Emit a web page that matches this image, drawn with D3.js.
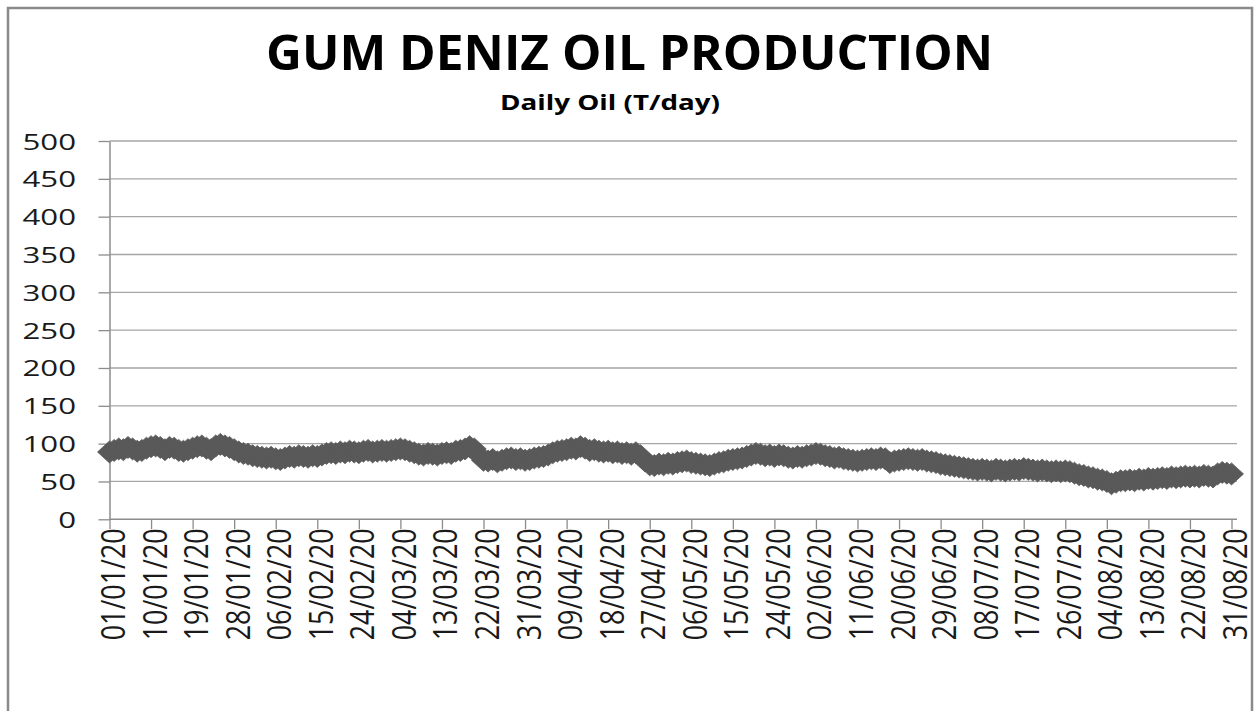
<!DOCTYPE html>
<html>
<head>
<meta charset="utf-8">
<script src="https://cdn.jsdelivr.net/npm/d3@7"></script>
<style>
  body { margin: 0; background: #fff; }
  svg { display: block; }
</style>
</head>
<body>
<div id="chart"></div>
<script>
// daily oil, T/day, 01/01/20 .. 31/08/20
var jan = [89, 91, 93, 92, 95, 93, 90, 91, 94, 96, 97, 95, 92, 95, 94, 91, 90, 92, 94, 96, 97, 94, 92, 97, 99, 97, 95, 92, 89, 87, 86];
var feb = [84, 83, 82, 81, 82, 80, 79, 81, 83, 82, 84, 83, 82, 84, 83, 85, 87, 88, 87, 89, 88, 90, 89, 88, 90, 91, 89, 90, 91];
var mar = [90, 91, 92, 93, 92, 90, 88, 86, 85, 87, 86, 85, 87, 88, 87, 90, 91, 93, 96, 93, 85, 78, 77, 79, 76, 78, 80, 81, 79, 80, 78];
var apr = [79, 81, 82, 83, 85, 88, 90, 91, 92, 94, 93, 96, 94, 91, 92, 90, 89, 90, 88, 89, 87, 88, 86, 88, 84, 77, 72, 71, 73, 72];
var may = [74, 73, 75, 76, 77, 75, 74, 73, 72, 71, 73, 75, 76, 78, 79, 80, 81, 83, 85, 87, 86, 84, 85, 83, 85, 84, 82, 81, 83, 82, 84];
var jun = [85, 87, 86, 84, 83, 81, 82, 80, 79, 78, 77, 78, 79, 80, 79, 81, 80, 75, 77, 78, 79, 80, 79, 78, 79, 77, 76, 75, 73, 72];
var jul = [71, 70, 69, 68, 67, 66, 65, 66, 65, 64, 66, 65, 64, 65, 66, 65, 67, 66, 65, 64, 65, 64, 63, 64, 63, 64, 63, 61, 59, 58, 56];
var aug = [55, 53, 52, 50, 47, 49, 51, 51, 52, 51, 53, 52, 54, 53, 54, 55, 54, 56, 55, 56, 57, 56, 57, 56, 58, 57, 56, 60, 62, 61, 60];

var tickLabels = ["01/01/20", "10/01/20", "19/01/20", "28/01/20", "06/02/20", "15/02/20", "24/02/20",
  "04/03/20", "13/03/20", "22/03/20", "31/03/20", "09/04/20", "18/04/20", "27/04/20", "06/05/20",
  "15/05/20", "24/05/20", "02/06/20", "11/06/20", "20/06/20", "29/06/20", "08/07/20", "17/07/20",
  "26/07/20", "04/08/20", "13/08/20", "22/08/20", "31/08/20"];
var yTicks = [0, 50, 100, 150, 200, 250, 300, 350, 400, 450, 500];

var values = [].concat(jan, feb, mar, apr, may, jun, jul, aug);
var fmt = d3.timeFormat("%d/%m/%y");
var days = d3.timeDay.range(new Date(2020, 0, 1), new Date(2020, 8, 1)).map(fmt);
var data = days.map((d, i) => ({day: d, value: values[i]}));

var chart = {width: 1255, height: 711};
chart.plot = {left: 109.5, right: 1231.5, top: 141, bottom: 519.3, gridEnd: 1237};
chart.color = "#595959";
chart.gridColor = "#a6a6a6";
chart.axisColor = "#8c8c8c";
chart.font = "'Open Sans', 'Noto Sans', sans-serif";

svg = d3.select("#chart")
  .append("svg")
  .attr("width", chart.width)
  .attr("height", chart.height)

svg.append("rect")
  .attr("width", chart.width)
  .attr("height", chart.height)
  .attr("fill", "#fff")

// outer chart frame
svg.append("rect")
  .attr("x", 8)
  .attr("y", 8)
  .attr("width", 1244)
  .attr("height", 720)
  .attr("fill", "none")
  .attr("stroke", "#8a8a8a")
  .attr("stroke-width", 2.5)

var x = d3.scalePoint()
  .domain(days)
  .range([chart.plot.left, chart.plot.right]);

var y = d3.scaleLinear()
  .domain([0, 500])
  .range([chart.plot.bottom, chart.plot.top]);

// gridlines
svg.append("g")
  .selectAll("line")
  .data(yTicks.slice(1))
  .enter()
  .append("line")
  .attr("x1", chart.plot.left)
  .attr("x2", chart.plot.gridEnd)
  .attr("y1", d => y(d))
  .attr("y2", d => y(d))
  .attr("stroke", chart.gridColor)
  .attr("stroke-width", 1.3)

// y axis
var yAxis = svg.append("g")
  .attr("transform", "translate(" + chart.plot.left + ",0)")
  .call(d3.axisLeft(y).tickValues(yTicks).tickSize(11).tickSizeOuter(0).tickPadding(0));
yAxis.select(".domain").attr("stroke", chart.axisColor).attr("stroke-width", 1.5);
yAxis.selectAll(".tick line").attr("stroke", chart.axisColor).attr("stroke-width", 1.3);
yAxis.selectAll(".tick text")
  .attr("x", 0).attr("dy", 0)
  .attr("transform", "translate(-33.5,8) scale(1.42,1)")
  .attr("text-anchor", "end")
  .attr("font-family", chart.font)
  .attr("font-size", 22)
  .attr("fill", "#1a1a1a")

// x axis
var xAxis = svg.append("g")
  .attr("transform", "translate(0," + chart.plot.bottom + ")")
  .call(d3.axisBottom(x).tickValues(tickLabels).tickSize(10).tickSizeOuter(0));
xAxis.select(".domain")
  .attr("d", "M" + chart.plot.left + ",0H" + chart.plot.gridEnd)
  .attr("stroke", chart.axisColor).attr("stroke-width", 1.5);
xAxis.selectAll(".tick line").attr("stroke", chart.axisColor).attr("stroke-width", 1.3);
xAxis.selectAll(".tick text")
  .attr("x", 0).attr("y", 0).attr("dy", "0.36em")
  .attr("transform", "translate(3,9) scale(1.45,1) rotate(-90)")
  .attr("text-anchor", "end")
  .attr("textLength", 112)
  .attr("lengthAdjust", "spacingAndGlyphs")
  .attr("font-family", chart.font)
  .attr("font-size", 23)
  .attr("fill", "#1a1a1a")

// series line + diamond markers
var line = d3.line()
  .x(d => x(d.day))
  .y(d => y(d.value));

svg.append("path")
  .datum(data)
  .attr("d", line)
  .attr("fill", "none")
  .attr("stroke", chart.color)
  .attr("stroke-width", 2.5)

function diamond(hw, hh){
  return "M0," + (-hh) + "L" + hw + ",0L0," + hh + "L" + (-hw) + ",0Z";
}

svg.append("g")
  .selectAll("path")
  .data(data)
  .enter()
  .append("path")
  .attr("transform", d => "translate(" + x(d.day) + "," + y(d.value) + ")")
  .attr("d", diamond(12, 11))
  .attr("fill", chart.color)
  .attr("stroke", chart.color)
  .attr("stroke-width", 0.8)

// titles
svg.append("text")
  .attr("x", 266)
  .attr("y", 70)
  .attr("textLength", 727)
  .attr("lengthAdjust", "spacingAndGlyphs")
  .attr("font-family", chart.font)
  .attr("font-weight", 700)
  .attr("font-size", 49)
  .attr("fill", "#000")
  .text("GUM DENIZ OIL PRODUCTION")

svg.append("text")
  .attr("x", 500)
  .attr("y", 110)
  .attr("textLength", 220)
  .attr("lengthAdjust", "spacingAndGlyphs")
  .attr("font-family", chart.font)
  .attr("font-weight", 700)
  .attr("font-size", 21)
  .attr("fill", "#000")
  .text("Daily Oil (T/day)")
</script>
</body>
</html>
